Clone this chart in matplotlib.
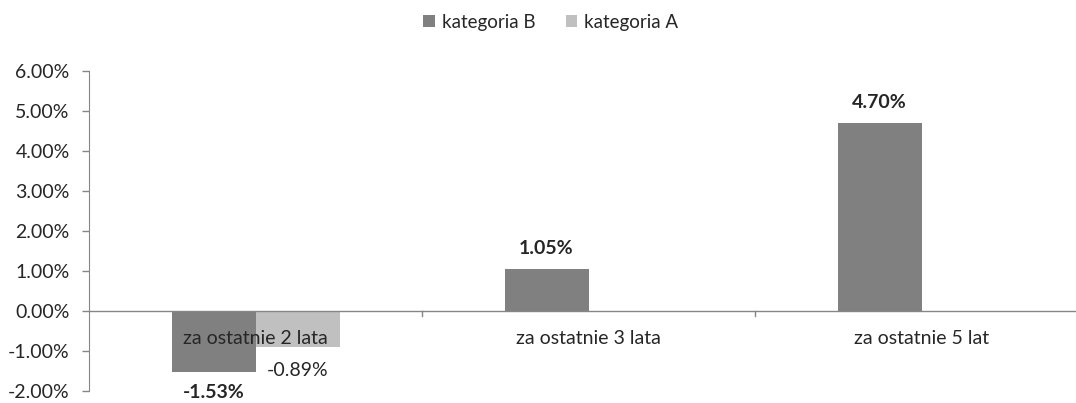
import numpy as np
import matplotlib.pyplot as plt
from matplotlib.ticker import FuncFormatter

plt.rcParams['font.family'] = ['Lato', 'DejaVu Sans']

# data
categories = ["za ostatnie 2 lata", "za ostatnie 3 lata", "za ostatnie 5 lat"]
kat_b = [-1.53, 1.05, 4.70]
kat_a = [-0.89, np.nan, np.nan]

col_b = '#808080'
col_a = '#c0c0c0'
axis_col = '#868686'
text_col = '#262626'
fs = 14

fig = plt.figure(figsize=(10.76, 4.03), dpi=100)
# plot area runs a bit past the right edge, like the cropped original
ax = fig.add_axes([89 / 1076, (403 - 391) / 403, (1088 - 89) / 1076, 320 / 403])

x = np.arange(len(categories))
w = 84 / 333
ax.bar(x - w / 2, kat_b, w, color=col_b, label="kategoria B", zorder=2)
ax.bar(x + w / 2, kat_a, w, color=col_a, label="kategoria A", zorder=2)

ax.set_xlim(-0.5, len(categories) - 0.5)
ax.set_ylim(-2, 6)
ax.set_yticks(np.arange(-2, 7, 1))
ax.yaxis.set_major_formatter(FuncFormatter(lambda v, p: f"{v:.2f}%"))
ax.tick_params(axis='y', length=5, width=1, color=axis_col, labelsize=fs,
               labelcolor=text_col, pad=9)

# no bottom axis: zero line with category separators instead
for s in ['top', 'right', 'bottom']:
    ax.spines[s].set_visible(False)
ax.spines['left'].set_color(axis_col)
ax.axhline(0, color=axis_col, lw=1, zorder=3)
ax.set_xticks([])
for b in x[:-1] + 0.5:
    ax.plot([b, b], [0, -0.12], color=axis_col, lw=1, clip_on=False)

# category labels just under zero line
for xi, c in zip(x, categories):
    ax.text(xi, -0.68, c, ha='center', va='center', fontsize=fs, color=text_col, zorder=4)

# data labels
for xi, v in zip(x, kat_b):
    off = 0.5 if v >= 0 else -0.52
    ax.text(xi - w / 2, v + off, f"{v:.2f}%", ha='center', va='center',
            fontsize=fs, fontweight='bold', color=text_col)
for xi, v in zip(x, kat_a):
    if np.isnan(v):
        continue
    ax.text(xi + w / 2, v - 0.6, f"{v:.2f}%", ha='center', va='center',
            fontsize=fs, color=text_col)

leg = fig.legend(loc='upper center', bbox_to_anchor=(0.512, 1.007), ncol=2, frameon=False,
                 fontsize=13.5, handlelength=0.6, handleheight=0.6, handletextpad=0.4,
                 columnspacing=1.6)
for t in leg.get_texts():
    t.set_color(text_col)

fig.savefig('out.png', dpi=100)
